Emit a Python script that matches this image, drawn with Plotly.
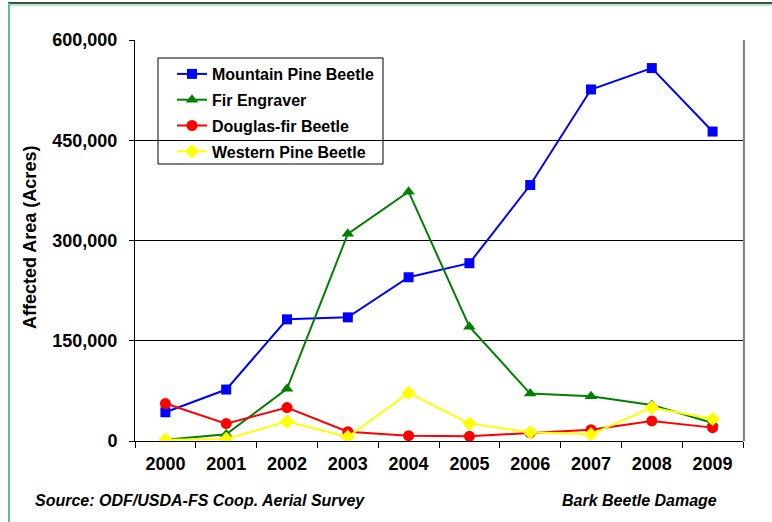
import plotly.graph_objects as go

years = ["2000", "2001", "2002", "2003", "2004", "2005", "2006", "2007", "2008", "2009"]

mountain_pine = [43000, 77000, 182000, 185000, 245000, 266000, 383000, 526000, 558000, 463000]
fir_engraver = [2000, 10000, 78000, 310000, 373000, 171000, 71000, 67000, 54000, 27000]
douglas_fir = [56000, 26000, 50000, 14000, 8000, 7000, 12000, 17000, 30000, 20000]
western_pine = [2000, 3000, 29000, 6000, 72000, 26000, 13000, 10000, 50000, 33000]

y_ticks = [0, 150000, 300000, 450000, 600000]

FONT = "Liberation Sans, Arial, sans-serif"

W, H = 772, 522
L, R, T, B = 135, 743, 40, 441


def px(x):
    return (x - L) / (R - L)


def py(y):
    return (B - y) / (B - T)


series = [
    ("Mountain Pine Beetle", mountain_pine, "#0000FF", "square", 10),
    ("Fir Engraver", fir_engraver, "#008000", "triangle-up", 11),
    ("Douglas-fir Beetle", douglas_fir, "#FF0000", "circle", 11),
    ("Western Pine Beetle", western_pine, "#FFFF00", "diamond", 11),
]

fig = go.Figure()
for name, vals, color, symbol, size in series:
    fig.add_trace(go.Scatter(
        x=years, y=vals, name=name, legendgroup=name,
        mode="lines+markers",
        line=dict(color=color, width=2),
        marker=dict(symbol=symbol, size=size, color=color),
    ))

fig.update_layout(
    width=W, height=H,
    margin=dict(l=L, r=W - R, t=T, b=H - B),
    paper_bgcolor="white", plot_bgcolor="white",
    font=dict(family=FONT, color="black"),
    showlegend=True,
    legend=dict(
        x=px(172), y=py(57), xanchor="left", yanchor="top",
        bgcolor="rgba(0,0,0,0)", borderwidth=0,
        font=dict(family=FONT, size=16, color="black", weight="bold"),
        tracegroupgap=2,
        itemwidth=30,
    ),
    xaxis=dict(
        type="category", range=[-0.5, 9.5],
        tickson="boundaries", ticks="outside", ticklen=6, tickcolor="black",
        showline=True, linecolor="black", linewidth=1,
        showgrid=False, zeroline=False,
        tickfont=dict(family=FONT, size=18, color="black", weight="bold"),
        ticklabelstandoff=6,
    ),
    yaxis=dict(
        range=[0, 600000], tickvals=y_ticks, tickformat=",",
        ticks="outside", ticklen=5, tickcolor="black",
        showline=True, linecolor="black", linewidth=1,
        showgrid=True, gridcolor="black", gridwidth=1,
        zeroline=False,
        tickfont=dict(family=FONT, size=18, color="black", weight="bold"),
        ticklabelstandoff=8,
    ),
    shapes=[
        # right edge of the plot frame
        dict(type="line", xref="paper", yref="paper", x0=1.0015, x1=1.0015, y0=0, y1=1,
             line=dict(color="#7f7f7f", width=2)),
        # legend box
        dict(type="rect", xref="paper", yref="paper",
             x0=px(158), x1=px(383), y0=py(58), y1=py(164),
             line=dict(color="black", width=1), fillcolor="rgba(0,0,0,0)", layer="above"),
        # slide frame
        dict(type="line", xref="paper", yref="paper", x0=px(8), x1=px(772), y0=py(3), y1=py(3),
             line=dict(color="#3f5247", width=2)),
        dict(type="line", xref="paper", yref="paper", x0=px(8), x1=px(772), y0=py(5), y1=py(5),
             line=dict(color="#7dd3a6", width=1)),
        dict(type="line", xref="paper", yref="paper", x0=px(9), x1=px(9), y0=py(3), y1=py(522),
             line=dict(color="#5cc08c", width=2)),
    ],
    annotations=[
        dict(text="Affected Area (Acres)", xref="paper", yref="paper",
             x=px(30), y=py(238), textangle=-90, showarrow=False,
             xanchor="center", yanchor="middle",
             font=dict(family=FONT, size=18, color="black", weight="bold")),
        dict(text="<i>Source: ODF/USDA-FS Coop. Aerial Survey</i>", xref="paper", yref="paper",
             x=px(33), y=py(500), showarrow=False, xanchor="left", yanchor="middle",
             font=dict(family=FONT, size=16, color="black", weight="bold")),
        dict(text="<i>Bark Beetle Damage</i>", xref="paper", yref="paper",
             x=px(560), y=py(500), showarrow=False, xanchor="left", yanchor="middle",
             font=dict(family=FONT, size=16, color="black", weight="bold")),
    ],
)

fig.write_html("out.html")
